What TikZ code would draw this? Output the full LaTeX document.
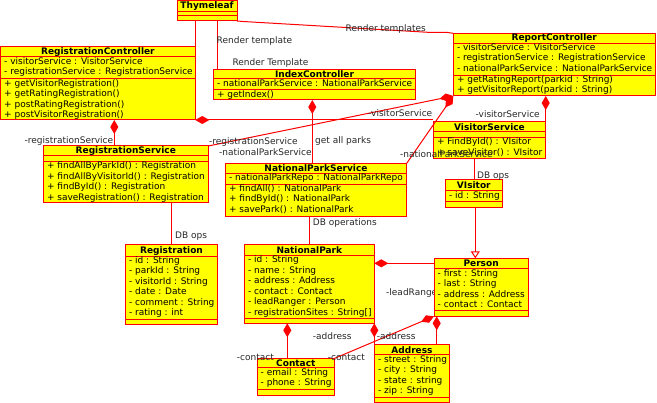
\documentclass[tikz,border=0pt]{standalone}
\usepackage{fontspec}
\setmainfont{DejaVu Sans}
\usetikzlibrary{arrows.meta}

\definecolor{umlfill}{RGB}{255,255,0}
\definecolor{umlline}{RGB}{255,0,0}
\definecolor{labeltext}{RGB}{40,40,40}
\newcommand{\umlfont}{\fontsize{9}{10.5}\selectfont}

\tikzset{
  classbox/.style={rectangle, draw=umlline, fill=umlfill, line width=1pt, inner sep=0pt, outer sep=0pt},
  classrule/.style={draw=umlline, line width=1pt},
  classname/.style={font=\umlfont\bfseries, inner sep=0pt},
  members/.style={font=\umlfont, anchor=north west, inner xsep=3.5pt, inner ysep=0pt, align=left, execute at begin node=\strut},
  conn/.style={draw=umlline, line width=1pt},
  compo/.style={conn, arrows={Diamond[length=14pt,width=8pt]-}},
  inherit/.style={conn, arrows={-Triangle[open,length=7pt,width=9pt]}},
  role/.style={font=\umlfont, text=labeltext, inner sep=0pt, anchor=west},
}

% class frame: name, x1, y1, x2, y2, y of name rule, y of attribute rule
\newcommand{\umlclass}[7]{%
  \node[classbox, minimum width={#4-#2}, minimum height={#5-#3}, anchor=north west] (#1) at (#2,#3) {};
  \draw[classrule] (#2,#6) -- (#4,#6);
  \draw[classrule] (#2,#7) -- (#4,#7);
  \coordinate (#1-name) at ({(#2+#4)/2},{(#3+#6)/2});
  \coordinate (#1-attr) at (#2,#6);
  \coordinate (#1-ops) at (#2,#7);
}

\begin{document}
\begin{tikzpicture}[x=1pt, y=-1pt]
\fill[white] (0,0) rectangle (657,403);
\useasboundingbox (0,0) rectangle (657,403);

% role label that sits beneath the Person box
\node[role] (l-lead) at (386,292.7) {-leadRanger};

% ---- classes ----
\umlclass{thy}{177}{0.5}{237}{21}{11.7}{16}
\node[classname] (thy-n) at (thy-name) {Thymeleaf};

\umlclass{rc}{0.5}{46.7}{195.3}{120}{57}{79}
\node[classname] (rc-n) at (rc-name) {RegistrationController};
\node[members] (rc-a) at (rc-attr) {- visitorService : VisitorService\\- registrationService : RegistrationService};
\node[members] (rc-o) at (rc-ops) {+ getVisitorRegistration()\\+ getRatingRegistration()\\+ postRatingRegistration()\\+ postVisitorRegistration()};

\umlclass{ic}{213.3}{69.3}{415.7}{100}{79}{89.7}
\node[classname] (ic-n) at (ic-name) {IndexController};
\node[members] (ic-a) at (ic-attr) {- nationalParkService : NationalParkService};
\node[members] (ic-o) at (ic-ops) {+ getIndex()};

\umlclass{repc}{453.3}{33.3}{655.3}{96}{43.3}{75.3}
\node[classname] (repc-n) at (repc-name) {ReportController};
\node[members] (repc-a) at (repc-attr) {- visitorService : VisitorService\\- registrationService : RegistrationService\\- nationalParkService : NationalParkService};
\node[members] (repc-o) at (repc-ops) {+ getRatingReport(parkid : String)\\+ getVisitorReport(parkid : String)};

\umlclass{rs}{43.3}{146}{208.3}{203}{156}{161.7}
\node[classname] (rs-n) at (rs-name) {RegistrationService};
\node[members] (rs-o) at (rs-ops) {+ findAllByParkId() : Registration\\+ findAllByVisitorId() : Registration\\+ findById() : Registration\\+ saveRegistration() : Registration};

\umlclass{nps}{225.3}{163.3}{406.7}{216.3}{173.3}{184.3}
\node[classname] (nps-n) at (nps-name) {NationalParkService};
\node[members] (nps-a) at (nps-attr) {- nationalParkRepo : NationalParkRepo};
\node[members] (nps-o) at (nps-ops) {+ findAll() : NationalPark\\+ findById() : NationalPark\\+ savePark() : NationalPark};

\umlclass{vs}{433.3}{121.7}{545.7}{158.7}{132}{137.7}
\node[classname] (vs-n) at (vs-name) {VisitorService};
\node[members] (vs-o) at (vs-ops) {+ FindById() : VIsitor\\+ saveVisitor() : VIsitor};

\umlclass{vis}{445.3}{180}{502.3}{207.3}{191}{202}
\node[classname] (vis-n) at (vis-name) {VIsitor};
\node[members] (vis-a) at (vis-attr) {- id : String};

\umlclass{reg}{125.3}{245}{217.7}{324.3}{256.3}{319.3}
\node[classname] (reg-n) at (reg-name) {Registration};
\node[members] (reg-a) at (reg-attr) {- id : String\\- parkId : String\\- visitorId : String\\- date : Date\\- comment : String\\- rating : int};

\umlclass{np}{244.3}{245}{374.3}{323.3}{255.7}{318.3}
\node[classname] (np-n) at (np-name) {NationalPark};
\node[members] (np-a) at (np-attr) {- id : String\\- name : String\\- address : Address\\- contact : Contact\\- leadRanger : Person\\- registrationSites : String[]};

\umlclass{con}{257}{358.3}{334.7}{395.3}{368}{390}
\node[classname] (con-n) at (con-name) {Contact};
\node[members] (con-a) at (con-attr) {- email : String\\- phone : String};

\umlclass{per}{434}{258.3}{528.3}{316.3}{269}{311}
\node[classname] (per-n) at (per-name) {Person};
\node[members] (per-a) at (per-attr) {- first : String\\- last : String\\- address : Address\\- contact : Contact};

\umlclass{adr}{374.3}{344.3}{449.7}{402.5}{355}{397.3}
\node[classname] (adr-n) at (adr-name) {Address};
\node[members] (adr-a) at (adr-attr) {- street : String\\- city : String\\- state : string\\- zip : String};

% ---- connectors ----
% template rendering
\draw[conn] (thy.south -| rc.north east) -- (rc.north east);
\coordinate (ic-top) at ([xshift=4pt]ic.north west);
\draw[conn] (ic-top |- thy.south) -- (ic-top);
\draw[conn] (thy.south east) -- ++(6,0.5) -- (428,32.3) -- (446,32.3) -- (repc.north west);

% controllers own their services
\coordinate (rc-rs) at ([xshift=113.8pt]rc.south west);
\draw[compo] (rc-rs) -- (rc-rs |- rs.north);
\draw[compo] (rc.south east) -- (rc.south east -| vs.north west);
\coordinate (ic-nps) at ([xshift=99pt]ic.south west);
\draw[compo] (ic-nps) -- (ic-nps |- nps.north);
\draw[compo] (repc.south west) -- (rs.north east);
\draw[compo] (repc.south west) -- (nps.north east);
\draw[compo] (vs.north east |- repc.south) -- (vs.north east);

% services reach the data
\coordinate (rs-reg) at ([xshift=128.2pt]rs.south west);
\draw[conn] (rs-reg) -- (rs-reg |- reg.north);
\coordinate (nps-np) at ([xshift=84.4pt]nps.south west);
\draw[conn] (nps-np) -- (nps-np |- np.north);
\coordinate (vs-vis) at ([xshift=41pt]vs.south west);
\draw[conn] (vs-vis) -- (vs-vis |- vis.north);

% model relations
\coordinate (vis-per) at ([xshift=30pt]vis.south west);
\draw[inherit] (vis-per) -- (vis-per |- per.north);
\coordinate (np-per) at ([yshift=-18.3pt]np.north east);
\draw[compo] (np-per) -- (np-per -| per.west);
\coordinate (np-con) at ([xshift=43pt]np.south west);
\draw[compo] (np-con) -- (np-con |- con.north);
\draw[compo] (np.south east) -- (np.south east |- adr.north);
\coordinate (per-adr) at ([xshift=2.7pt]per.south west);
\draw[compo] (per-adr) -- (per-adr |- adr.north);
\draw[compo] (per.south west) -- (con.north east);

% ---- labels ----
\node[role] (l-rt1) at (216.5,41) {Render template};
\node[role] (l-rt2) at (232.3,63.3) {Render Template};
\node[role] (l-rts) at (345.5,29.5) {Render templates};
\node[role] (l-rcrs) at (24.5,141) {-registrationService};
\node[role] (l-rcvs) at (368,113.5) {-visitorService};
\node[role] (l-repvs) at (475.5,114) {-visitorService};
\node[role] (l-reprs) at (209,142) {-registrationService};
\node[role] (l-icnps) at (219,152) {-nationalParkService};
\node[role] (l-gap) at (315,141) {get all parks};
\node[role] (l-repnps) at (400,154.3) {-nationalParkService};
\node[role] (l-dbr) at (175,236) {DB ops};
\node[role] (l-dbnp) at (312.7,223.3) {DB operations};
\node[role] (l-dbv) at (477,175.7) {DB ops};
\node[role] (l-adr1) at (312.7,336) {-address};
\node[role] (l-adr2) at (376.7,336) {-address};
\node[role] (l-con1) at (236.7,357) {-contact};
\node[role] (l-con2) at (327.7,357) {-contact};
\end{tikzpicture}
\end{document}
